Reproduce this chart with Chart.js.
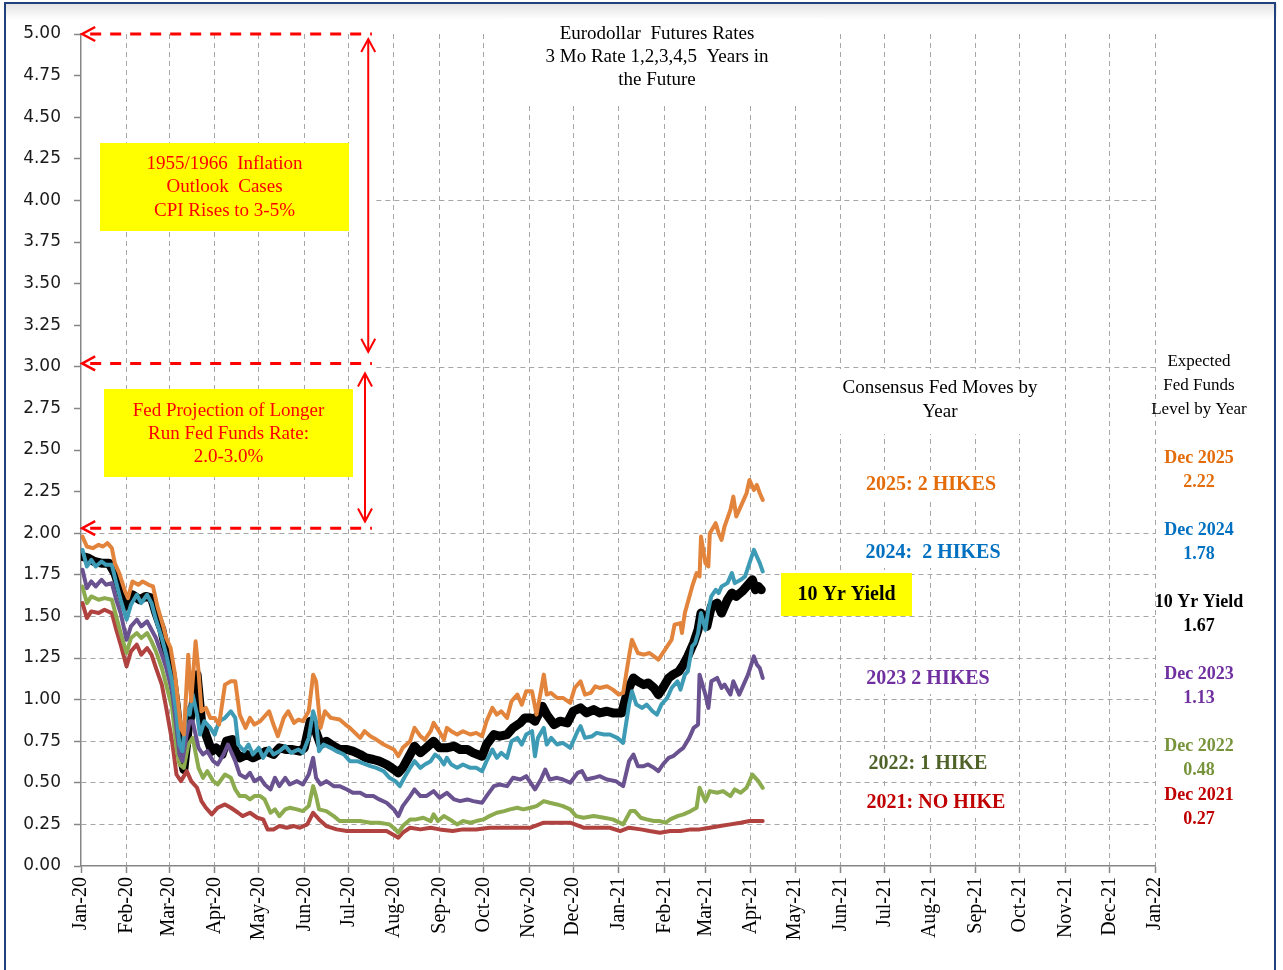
<!DOCTYPE html>
<html>
<head>
<meta charset="utf-8">
<script src="https://cdn.jsdelivr.net/npm/chart.js@4/dist/chart.umd.min.js"></script>
<style>
  html, body { margin: 0; padding: 0; background: #fff; }
  #wrap { position: relative; width: 1283px; height: 970px; overflow: hidden; background: #fff; }
  #shade { position: absolute; left: 6px; top: 4px; width: 1271px; height: 16px; background: linear-gradient(#e4e4e4, #ffffff); }
  #frame { position: absolute; left: 4px; top: 2px; width: 1272px; height: 990px; border: 2px solid #22407e; box-sizing: border-box; pointer-events: none; }
  canvas { position: absolute; left: 0; top: 0; }
</style>
</head>
<body>
<div id="wrap">
  <div id="shade"></div>
  <canvas id="c" width="1283" height="970"></canvas>
  <div id="frame"></div>
</div>
<script>
// ---------- DATA (day numbers = days since 1 Jan 2020) ----------
const tickLabels = ['Jan-20','Feb-20','Mar-20','Apr-20','May-20','Jun-20','Jul-20','Aug-20','Sep-20','Oct-20','Nov-20','Dec-20',
                    'Jan-21','Feb-21','Mar-21','Apr-21','May-21','Jun-21','Jul-21','Aug-21','Sep-21','Oct-21','Nov-21','Dec-21','Jan-22'];

const days2025 = [1,4,8,12,15,18,21,23,26,30,32,35,39,42,46,49,52,56,58,61,64,66,68,70,73,75,78,80,82,85,88,91,94,98,102,105,108,112,115,118,122,128,131,134,138,141,145,148,151,155,158,160,163,166,170,176,180,183,190,193,197,201,206,213,216,219,224,227,231,234,238,240,243,247,249,252,256,260,265,269,273,276,280,283,286,290,293,297,300,303,307,310,313,315,317,320,324,328,333,336,340,343,347,350,353,358,362,366,369,373,375,379,383,387,393,399,402,404,408,409,411,416,419,421,422,425,427,428,432,434,436,438,442,444,446,449,453,455,458,460,462,464];
const rate2025 = [1.98,1.92,1.91,1.93,1.92,1.94,1.91,1.82,1.76,1.65,1.61,1.71,1.69,1.71,1.69,1.68,1.56,1.44,1.37,1.31,1.15,0.99,0.83,0.79,1.27,0.99,1.35,1.17,0.93,0.95,0.89,0.89,0.85,1.09,1.11,1.11,0.91,0.83,0.89,0.85,0.87,0.93,0.85,0.78,0.89,0.93,0.86,0.88,0.87,0.93,1.15,1.11,0.83,0.93,0.89,0.88,0.85,0.83,0.77,0.81,0.78,0.76,0.73,0.70,0.66,0.71,0.75,0.83,0.78,0.76,0.81,0.86,0.82,0.76,0.83,0.81,0.79,0.81,0.79,0.80,0.78,0.87,0.95,0.91,0.93,0.89,0.99,1.03,0.97,1.05,1.05,0.91,1.05,1.15,1.03,1.04,1.01,1.01,0.98,1.07,1.11,1.03,1.04,1.08,1.07,1.08,1.06,1.03,1.04,1.26,1.36,1.28,1.27,1.28,1.24,1.32,1.36,1.45,1.46,1.40,1.52,1.68,1.76,1.74,1.98,1.82,1.80,2.00,2.06,2.00,1.96,2.04,2.14,2.22,2.10,2.16,2.24,2.32,2.26,2.29,2.24,2.20];

const days2024 = [1,4,7,10,14,17,21,24,27,31,34,38,41,45,48,51,55,58,62,65,67,69,72,74,76,79,81,84,88,91,94,98,102,105,107,111,114,117,121,124,128,131,135,139,143,148,151,155,158,160,162,165,170,174,179,183,188,194,197,201,206,210,214,217,220,224,227,231,234,238,241,244,247,249,252,256,260,265,269,273,276,280,283,286,290,293,297,300,303,307,309,311,315,317,320,324,328,333,338,340,343,348,351,356,360,365,369,373,375,378,382,385,389,392,395,399,402,406,408,411,413,416,418,420,422,425,427,429,432,434,436,440,443,445,449,452,455,458,460,462,464];
const rate2024 = [1.90,1.80,1.84,1.80,1.83,1.81,1.81,1.70,1.60,1.48,1.57,1.63,1.58,1.63,1.58,1.48,1.37,1.27,1.11,0.91,0.73,0.69,0.95,0.91,1.03,0.91,0.79,0.87,0.83,0.79,0.87,0.89,0.93,0.89,0.73,0.69,0.73,0.67,0.71,0.65,0.71,0.67,0.69,0.72,0.68,0.70,0.68,0.77,0.93,0.87,0.69,0.73,0.71,0.69,0.67,0.63,0.63,0.61,0.60,0.59,0.57,0.53,0.51,0.48,0.53,0.59,0.63,0.59,0.61,0.63,0.67,0.65,0.61,0.65,0.61,0.59,0.61,0.59,0.59,0.57,0.63,0.70,0.65,0.68,0.65,0.75,0.77,0.73,0.79,0.81,0.66,0.77,0.83,0.73,0.77,0.73,0.74,0.71,0.81,0.84,0.77,0.78,0.80,0.79,0.79,0.77,0.74,0.97,1.05,0.97,0.95,0.97,0.93,0.91,0.97,1.01,1.07,1.11,1.06,1.15,1.17,1.32,1.34,1.40,1.52,1.42,1.54,1.62,1.66,1.64,1.68,1.70,1.76,1.70,1.72,1.74,1.82,1.90,1.86,1.82,1.77];

const daysYield = [1,5,9,14,19,23,26,30,35,40,44,48,51,55,58,62,65,68,70,73,76,79,82,85,89,92,96,99,103,105,108,113,117,122,126,131,135,140,144,149,152,156,159,163,167,172,176,181,185,190,194,199,203,208,213,216,219,224,227,231,235,240,244,249,254,258,263,267,273,276,281,285,290,294,299,302,306,309,314,317,322,326,331,335,340,344,349,353,358,362,368,372,376,379,383,386,390,393,396,400,403,407,410,413,417,420,422,426,429,433,436,440,443,446,450,453,457,459,461,463];
const tenYearYield = [1.86,1.85,1.83,1.82,1.82,1.76,1.68,1.56,1.63,1.60,1.62,1.61,1.52,1.42,1.29,1.15,0.95,0.67,0.58,0.83,0.95,1.15,0.87,0.79,0.69,0.71,0.67,0.75,0.76,0.69,0.65,0.67,0.65,0.67,0.69,0.67,0.71,0.70,0.70,0.69,0.71,0.87,0.83,0.73,0.75,0.72,0.70,0.70,0.69,0.67,0.65,0.64,0.63,0.61,0.58,0.56,0.59,0.67,0.72,0.68,0.71,0.75,0.71,0.71,0.72,0.70,0.70,0.68,0.66,0.73,0.79,0.78,0.79,0.83,0.86,0.89,0.89,0.87,0.96,0.91,0.85,0.87,0.86,0.93,0.95,0.92,0.94,0.92,0.93,0.92,0.92,1.05,1.13,1.11,1.09,1.10,1.07,1.03,1.07,1.13,1.15,1.17,1.21,1.26,1.34,1.42,1.52,1.44,1.56,1.58,1.52,1.60,1.64,1.62,1.65,1.68,1.72,1.66,1.68,1.66];

const days2023 = [1,4,7,10,14,17,21,24,27,31,34,38,41,45,48,51,55,58,62,65,67,69,72,74,76,80,83,86,90,93,97,100,105,108,112,115,118,122,125,129,132,135,139,142,147,151,155,158,160,163,167,172,176,181,185,190,194,199,203,208,213,216,219,224,227,231,235,240,244,249,254,258,263,267,273,276,281,285,290,294,299,303,309,313,316,319,324,328,333,338,341,344,349,353,358,364,369,373,376,379,383,386,390,393,396,400,403,407,410,414,417,420,421,425,427,429,433,436,438,442,444,448,451,454,458,460,462,464];
const rate2023 = [1.78,1.67,1.71,1.68,1.72,1.69,1.70,1.60,1.52,1.36,1.44,1.48,1.44,1.47,1.42,1.37,1.27,1.19,1.05,0.83,0.67,0.63,0.79,0.87,0.87,0.71,0.67,0.69,0.63,0.61,0.67,0.73,0.63,0.55,0.53,0.56,0.51,0.53,0.49,0.46,0.53,0.48,0.53,0.49,0.51,0.49,0.55,0.65,0.53,0.49,0.51,0.48,0.48,0.46,0.44,0.44,0.42,0.42,0.40,0.38,0.34,0.30,0.36,0.42,0.46,0.42,0.42,0.45,0.41,0.44,0.40,0.39,0.40,0.39,0.38,0.42,0.48,0.49,0.48,0.53,0.52,0.54,0.46,0.52,0.58,0.52,0.53,0.52,0.50,0.56,0.57,0.52,0.53,0.54,0.52,0.51,0.48,0.63,0.67,0.60,0.60,0.61,0.59,0.57,0.61,0.65,0.66,0.69,0.71,0.77,0.83,0.85,1.15,1.03,0.95,1.11,1.13,1.07,1.09,1.03,1.11,1.03,1.09,1.15,1.26,1.21,1.19,1.13];

const days2022 = [1,4,7,12,16,21,24,27,31,34,38,41,45,48,51,55,58,62,65,67,70,73,76,80,83,86,90,93,98,102,105,108,112,115,118,122,125,129,132,135,139,142,147,151,155,158,160,162,167,172,176,183,190,197,203,210,214,216,219,224,228,233,238,240,243,247,251,256,260,265,269,274,278,283,288,292,297,301,306,310,315,319,324,328,333,337,342,349,356,362,369,374,377,381,385,390,394,398,401,406,410,415,419,421,425,428,433,437,442,445,449,453,457,459,461,464];
const rate2022 = [1.68,1.58,1.62,1.60,1.61,1.60,1.50,1.40,1.28,1.37,1.40,1.37,1.40,1.35,1.29,1.19,1.09,0.95,0.71,0.61,0.59,0.73,0.77,0.59,0.53,0.57,0.51,0.49,0.55,0.53,0.46,0.42,0.42,0.40,0.42,0.42,0.40,0.32,0.34,0.30,0.34,0.35,0.34,0.33,0.36,0.48,0.42,0.34,0.33,0.30,0.27,0.27,0.27,0.26,0.26,0.25,0.22,0.20,0.24,0.28,0.28,0.29,0.27,0.31,0.27,0.30,0.28,0.25,0.27,0.26,0.27,0.28,0.30,0.32,0.33,0.34,0.35,0.34,0.35,0.36,0.39,0.38,0.37,0.36,0.34,0.30,0.29,0.30,0.29,0.28,0.25,0.33,0.33,0.29,0.28,0.27,0.27,0.26,0.28,0.30,0.31,0.33,0.35,0.47,0.39,0.45,0.44,0.45,0.42,0.46,0.44,0.47,0.55,0.53,0.51,0.47];

const days2021 = [1,4,7,12,16,21,24,27,31,34,38,41,45,48,51,55,58,62,65,68,72,75,79,82,85,89,93,98,102,107,110,115,120,124,127,131,135,140,145,149,154,158,162,167,174,181,188,194,201,208,214,216,219,224,231,238,244,253,260,269,278,288,297,306,315,324,333,342,351,360,367,373,381,387,394,401,408,415,421,428,435,442,449,455,464];
const rate2021 = [1.58,1.49,1.53,1.52,1.54,1.52,1.42,1.33,1.20,1.29,1.33,1.27,1.31,1.27,1.19,1.09,0.95,0.75,0.55,0.51,0.57,0.51,0.47,0.39,0.35,0.31,0.35,0.37,0.35,0.32,0.30,0.32,0.29,0.28,0.22,0.22,0.24,0.23,0.24,0.23,0.25,0.32,0.28,0.24,0.22,0.21,0.21,0.21,0.21,0.21,0.18,0.17,0.20,0.23,0.22,0.23,0.22,0.21,0.22,0.22,0.23,0.23,0.23,0.23,0.26,0.26,0.26,0.23,0.23,0.23,0.21,0.23,0.22,0.21,0.20,0.21,0.21,0.22,0.22,0.23,0.24,0.25,0.26,0.27,0.27];

// right-hand "expected level" labels
const rightNames  = ['Dec 2025','Dec 2024','10 Yr Yield','Dec 2023','Dec 2022','Dec 2021'];
const rightValues = ['2.22','1.78','1.67','1.13','0.48','0.27'];
// consensus labels
const moveLabels = ['2025: 2 HIKES','2024:  2 HIKES','2023 2 HIKES','2022: 1 HIKE','2021: NO HIKE'];

// ---------- build ----------
const dayOf = (lbl) => {
  const m = ['Jan','Feb','Mar','Apr','May','Jun','Jul','Aug','Sep','Oct','Nov','Dec'].indexOf(lbl.slice(0,3));
  const y = 2000 + parseInt(lbl.slice(4), 10);
  return Math.round((Date.UTC(y, m, 1) - Date.UTC(2020, 0, 1)) / 86400000);
};
const tickDays = tickLabels.map(dayOf);
const pts = (d, v) => d.map((x, i) => ({ x, y: v[i] }));

const GRID = '#a6a6a6';
const AXIS = '#868686';
const SERIF = "'Liberation Serif', 'Times New Roman', serif";

function mkSet(label, d, v, color, width, order) {
  return { label, data: pts(d, v), borderColor: color, backgroundColor: color, borderWidth: width,
           pointRadius: 0, tension: 0, fill: false, order, borderJoinStyle: 'round', borderCapStyle: 'round' };
}

const datasets = [
  mkSet('2025', days2025, rate2025, '#e2843b', 4, 1),
  mkSet('2024', days2024, rate2024, '#3d9bb5', 4, 2),
  mkSet('2023', days2023, rate2023, '#6a5290', 4, 3),
  mkSet('2022', days2022, rate2022, '#8cab4f', 4, 4),
  mkSet('2021', days2021, rate2021, '#b0433f', 4, 5),
  mkSet('10 Yr Yield', daysYield, tenYearYield, '#000000', 9, 6),
];

function text(ctx, s, x, y, font, color) {
  ctx.font = font; ctx.fillStyle = color; ctx.textAlign = 'center'; ctx.textBaseline = 'middle';
  ctx.fillText(s, x, y);
}
function box(ctx, x0, y0, x1, y1, fill) { ctx.fillStyle = fill; ctx.fillRect(x0, y0, x1 - x0, y1 - y0); }

const annot = {
  id: 'annot',
  beforeDatasetsDraw(chart) {
    const { ctx, chartArea, scales: { x, y } } = chart;
    ctx.save();
    ctx.strokeStyle = GRID; ctx.lineWidth = 1; ctx.setLineDash([5, 4]);
    for (const v of [3, 4]) {
      const py = Math.round(y.getPixelForValue(v)) + 0.5;
      ctx.beginPath(); ctx.moveTo(x.getPixelForValue(201), py); ctx.lineTo(chartArea.right, py); ctx.stroke();
    }
    ctx.restore();
  },
  afterDatasetsDraw(chart) {
    const { ctx, scales: { x, y } } = chart;
    ctx.save();
    // --- red dashed horizontal arrows ---
    ctx.strokeStyle = '#ff0000';
    for (const v of [5.0, 3.02, 2.03]) {
      const py = y.getPixelForValue(v);
      const x0 = x.getPixelForValue(0.8), x1 = x.getPixelForValue(198);
      ctx.lineWidth = 3; ctx.setLineDash([11, 9]);
      ctx.beginPath(); ctx.moveTo(x0 + 8, py); ctx.lineTo(x1, py); ctx.stroke();
      ctx.setLineDash([]); ctx.lineWidth = 2.5;
      ctx.beginPath(); ctx.moveTo(x0 + 13, py - 7); ctx.lineTo(x0, py); ctx.lineTo(x0 + 13, py + 7); ctx.stroke();
    }
    // --- vertical double arrows ---
    const vArrow = (day, vTop, vBot) => {
      const px = x.getPixelForValue(day), t = y.getPixelForValue(vTop), b = y.getPixelForValue(vBot);
      ctx.setLineDash([]); ctx.lineWidth = 2;
      ctx.beginPath(); ctx.moveTo(px, t); ctx.lineTo(px, b); ctx.stroke();
      ctx.beginPath(); ctx.moveTo(px - 7, t + 13); ctx.lineTo(px, t); ctx.lineTo(px + 7, t + 13); ctx.stroke();
      ctx.beginPath(); ctx.moveTo(px - 7, b - 13); ctx.lineTo(px, b); ctx.lineTo(px + 7, b - 13); ctx.stroke();
    };
    vArrow(195.5, 4.97, 3.09);
    vArrow(193.3, 2.96, 2.07);

    // --- yellow notes ---
    box(ctx, 100, 143, 349, 231, '#ffff00');
    ['1955/1966  Inflation', 'Outlook  Cases', 'CPI Rises to 3-5%'].forEach((s, i) => text(ctx, s, 224.5, 164 + i * 23.5, '19px ' + SERIF, '#ff0000'));
    box(ctx, 104, 389, 353, 477, '#ffff00');
    ['Fed Projection of Longer', 'Run Fed Funds Rate:', '2.0-3.0%'].forEach((s, i) => text(ctx, s, 228.5, 411 + i * 23, '19px ' + SERIF, '#ff0000'));

    // --- title ---
    box(ctx, 508, 18, 818, 104, '#ffffff');
    ['Eurodollar  Futures Rates', '3 Mo Rate 1,2,3,4,5  Years in', 'the Future'].forEach((s, i) => text(ctx, s, 657, 34 + i * 23, '19px ' + SERIF, '#000'));

    // --- consensus header ---
    box(ctx, 824, 369, 1056, 434, '#ffffff');
    ['Consensus Fed Moves by', 'Year'].forEach((s, i) => text(ctx, s, 940, 388 + i * 24, '19px ' + SERIF, '#000'));

    // --- expected header ---
    ['Expected', 'Fed Funds', 'Level by Year'].forEach((s, i) => text(ctx, s, 1199, 362 + i * 24, '17px ' + SERIF, '#000'));

    // --- consensus moves labels ---
    const moveCols = ['#e46c0a', '#0070c0', '#7030a0', '#4f6228', '#c00000'];
    const moveY = [485, 553, 679, 764, 803];
    const moveX = [931, 933, 928, 928, 936];
    moveLabels.forEach((s, i) => {
      ctx.font = 'bold 20px ' + SERIF;
      const w = ctx.measureText(s).width;
      box(ctx, moveX[i] - w / 2 - 8, moveY[i] - 15, moveX[i] + w / 2 + 8, moveY[i] + 15, '#ffffff');
      text(ctx, s, moveX[i], moveY[i], 'bold 20px ' + SERIF, moveCols[i]);
    });

    // --- 10 Yr Yield tag ---
    box(ctx, 781, 573, 912, 616, '#ffff00');
    text(ctx, '10 Yr Yield', 846.5, 595, 'bold 20px ' + SERIF, '#000');

    // --- right side levels ---
    const rCols = ['#e46c0a', '#0070c0', '#000000', '#7030a0', '#77933c', '#c00000'];
    const rY = [458, 530, 602, 674, 746, 795];
    rightNames.forEach((s, i) => {
      text(ctx, s, 1199, rY[i], 'bold 18px ' + SERIF, rCols[i]);
      text(ctx, rightValues[i], 1199, rY[i] + 24, 'bold 18px ' + SERIF, rCols[i]);
    });
    ctx.restore();
  }
};

new Chart(document.getElementById('c'), {
  type: 'line',
  data: { datasets },
  plugins: [annot],
  options: {
    responsive: false,
    animation: false,
    events: [],
    layout: { padding: { left: 0, right: 128, top: 34, bottom: 0 } },
    plugins: { legend: { display: false }, tooltip: { enabled: false } },
    scales: {
      x: {
        type: 'linear', min: 0, max: tickDays[tickDays.length - 1],
        afterBuildTicks: (s) => { s.ticks = tickDays.map(v => ({ value: v })); },
        afterFit: (s) => { s.height = 104; },
        ticks: {
          autoSkip: false, maxRotation: 90, minRotation: 90, padding: 4,
          font: { family: SERIF, size: 20 }, color: '#000',
          callback: (v, i) => tickLabels[i]
        },
        grid: {
          color: (c) => (c.tick && c.tick.value === 0) ? 'rgba(0,0,0,0)' : GRID,
          lineWidth: 1, tickColor: AXIS, tickLength: 7, tickWidth: 1.5, tickBorderDash: []
        },
        border: { color: AXIS, width: 1.5, dash: [5, 4] }
      },
      y: {
        min: 0, max: 5,
        afterFit: (s) => { s.width = 81; },
        ticks: {
          stepSize: 0.25, autoSkip: false, padding: 13,
          font: { family: "'DejaVu Sans', Verdana, sans-serif", size: 17 }, color: '#1a1a1a',
          callback: (v) => Number(v).toFixed(2)
        },
        grid: {
          color: (c) => { const v = c.tick ? c.tick.value : 0; return (v > 0.01 && v < 2.01) ? GRID : 'rgba(0,0,0,0)'; },
          lineWidth: 1, tickColor: AXIS, tickLength: 7, tickWidth: 1.5, tickBorderDash: []
        },
        border: { color: AXIS, width: 1.5, dash: [5, 4] }
      }
    }
  }
});
</script>
</body>
</html>
